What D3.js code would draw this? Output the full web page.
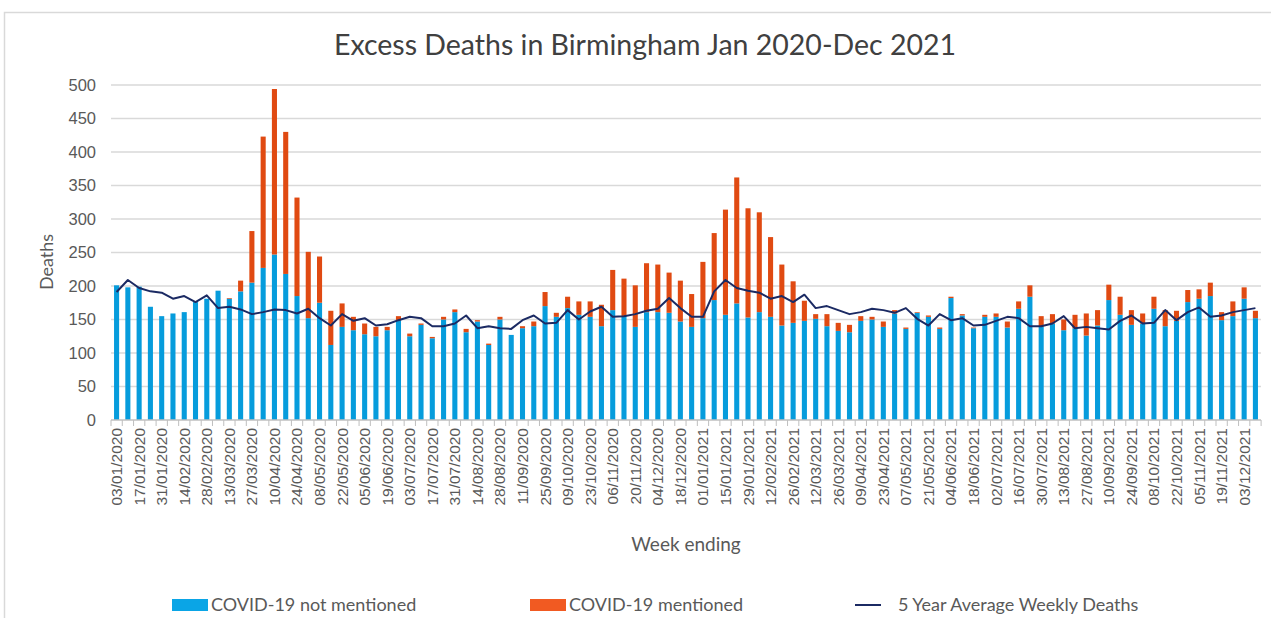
<!DOCTYPE html>
<meta charset="utf-8">

<!-- Load d3.js -->
<script src="https://d3js.org/d3.v7.min.js"></script>

<style>
body { margin: 0; background: #fff; }
text { font-family: "Liberation Sans", Arial, sans-serif; fill: #595959; }
.title, .legend text, .axis-title { font-family: Lato, "Open Sans", sans-serif; }
</style>

<div id="my_dataviz"></div>

<script>

// week ending dates (one bar per week)
var weeks = [
  "03/01/2020","10/01/2020","17/01/2020","24/01/2020","31/01/2020","07/02/2020","14/02/2020","21/02/2020",
  "28/02/2020","06/03/2020","13/03/2020","20/03/2020","27/03/2020","03/04/2020","10/04/2020","17/04/2020",
  "24/04/2020","01/05/2020","08/05/2020","15/05/2020","22/05/2020","29/05/2020","05/06/2020","12/06/2020",
  "19/06/2020","26/06/2020","03/07/2020","10/07/2020","17/07/2020","24/07/2020","31/07/2020","07/08/2020",
  "14/08/2020","21/08/2020","28/08/2020","04/09/2020","11/09/2020","18/09/2020","25/09/2020","02/10/2020",
  "09/10/2020","16/10/2020","23/10/2020","30/10/2020","06/11/2020","13/11/2020","20/11/2020","27/11/2020",
  "04/12/2020","11/12/2020","18/12/2020","25/12/2020","01/01/2021","08/01/2021","15/01/2021","22/01/2021",
  "29/01/2021","05/02/2021","12/02/2021","19/02/2021","26/02/2021","05/03/2021","12/03/2021","19/03/2021",
  "26/03/2021","02/04/2021","09/04/2021","16/04/2021","23/04/2021","30/04/2021","07/05/2021","14/05/2021",
  "21/05/2021","28/05/2021","04/06/2021","11/06/2021","18/06/2021","25/06/2021","02/07/2021","09/07/2021",
  "16/07/2021","23/07/2021","30/07/2021","06/08/2021","13/08/2021","20/08/2021","27/08/2021","03/09/2021",
  "10/09/2021","17/09/2021","24/09/2021","01/10/2021","08/10/2021","15/10/2021","22/10/2021","29/10/2021",
  "05/11/2021","12/11/2021","19/11/2021","26/11/2021","03/12/2021","10/12/2021"
];

// deaths where COVID-19 was not mentioned
var notMentioned = [
  201,198,199,169,155,159,161,176,181,193,181,192,205,227,247,218,185,152,175,112,
  139,134,128,125,134,149,125,142,122,150,161,131,147,112,150,127,137,140,170,154,
  167,157,154,140,164,155,139,161,161,160,147,139,152,179,157,174,153,161,154,141,
  145,148,151,140,133,131,148,150,139,159,136,160,154,136,182,156,137,154,154,138,
  166,184,139,144,134,137,126,141,179,157,142,144,166,140,148,176,181,185,149,155,
  181,152
];

// deaths where COVID-19 was mentioned
var mentioned = [
  0,0,0,0,0,0,0,0,0,0,1,16,77,196,247,212,147,99,69,51,
  35,20,16,14,5,6,4,2,2,4,4,5,2,2,4,0,3,7,21,6,
  17,20,23,32,60,56,62,73,71,60,61,49,84,100,157,188,163,149,119,91,
  62,30,7,18,12,11,7,4,8,5,2,1,2,2,2,2,1,3,5,9,
  11,17,16,14,16,20,33,23,23,27,22,15,18,24,15,18,14,20,12,22,
  17,11
];

// 5 year average weekly deaths
var fiveYearAvg = [
  191,209,197,192,190,181,185,176,186,167,169,165,158,161,165,164,159,166,152,141,
  158,148,152,141,143,149,154,152,140,140,144,156,137,140,137,136,149,156,144,145,
  164,150,162,169,154,155,158,163,166,182,167,154,154,192,209,197,193,190,181,185,
  176,187,167,170,164,158,161,166,164,160,167,151,141,158,149,152,141,142,148,154,
  152,140,140,144,155,137,139,137,135,148,156,144,145,164,149,161,168,154,156,161,
  164,167
];

var yTicks = [0,50,100,150,200,250,300,350,400,450,500];

var legendItems = ["COVID-19 not mentioned", "COVID-19 mentioned", "5 Year Average Weekly Deaths"];

var blue = "#069cdc", orange = "#e04a12", navy = "#1b2a63";

// set the dimensions and margins of the graph
var W = 1271, H = 618;
var margin = {top: 85, right: 10, bottom: 198, left: 111},
    width = 1261 - margin.left,
    height = H - margin.top - margin.bottom;

var svgRoot = d3.select("#my_dataviz")
  .append("svg")
    .attr("width", W)
    .attr("height", H);

// outer frame
svgRoot.append("rect")
  .attr("x", 4.5).attr("y", 12.5)
  .attr("width", W + 10).attr("height", H + 10)
  .attr("fill", "none").attr("stroke", "#d9d9d9").attr("stroke-width", 1.5);

svgRoot.append("text")
  .attr("class", "title")
  .attr("x", 645).attr("y", 55)
  .attr("text-anchor", "middle")
  .style("font-size", "28.5px")
  .style("fill", "#404040")
  .text("Excess Deaths in Birmingham Jan 2020-Dec 2021");

var svg = svgRoot.append("g")
  .attr("transform", "translate(" + margin.left + "," + margin.top + ")");

var data = weeks.map(function(w, i) {
  return {week: w, i: i, a: notMentioned[i], b: mentioned[i], avg: fiveYearAvg[i]};
});

var x = d3.scaleBand()
  .domain(weeks)
  .range([0, width])
  .paddingInner(0.55)
  .paddingOuter(0.27);

var y = d3.scaleLinear()
  .domain([0, 500])
  .range([height, 0]);

// gridlines
svg.append("g")
  .selectAll("line")
  .data(yTicks.slice(1))
  .enter()
  .append("line")
    .attr("x1", 0).attr("x2", width)
    .attr("y1", function(d) { return y(d); })
    .attr("y2", function(d) { return y(d); })
    .attr("stroke", "#d9d9d9")
    .attr("stroke-width", 1.5);

// Y axis labels
var yAxis = svg.append("g")
  .call(d3.axisLeft(y).tickValues(yTicks).tickSize(0).tickPadding(15));
yAxis.select(".domain").remove();
yAxis.selectAll("text").style("font-size", "16.5px").style("fill", "#595959");

// stacked bars
var stack = d3.stack().keys(["a", "b"])(data);
var colors = [blue, orange];

svg.append("g")
  .selectAll("g")
  .data(stack)
  .enter()
  .append("g")
    .attr("fill", function(d, k) { return colors[k]; })
  .selectAll("rect")
  .data(function(d) { return d; })
  .enter()
  .append("rect")
    .attr("x", function(d) { return x(d.data.week); })
    .attr("y", function(d) { return y(d[1]); })
    .attr("width", x.bandwidth())
    .attr("height", function(d) { return y(d[0]) - y(d[1]); });

// 5 year average line
var line = d3.line()
  .x(function(d) { return x(d.week) + x.bandwidth() / 2; })
  .y(function(d) { return y(d.avg); });

svg.append("path")
  .datum(data)
  .attr("fill", "none")
  .attr("stroke", navy)
  .attr("stroke-width", 2)
  .attr("stroke-linejoin", "round")
  .attr("d", line);

// X axis: line, ticks between categories, labels every other week
var xAxis = svg.append("g")
  .attr("transform", "translate(0," + height + ")");

xAxis.append("line")
  .attr("x1", 0).attr("x2", width)
  .attr("stroke", "#bfbfbf").attr("stroke-width", 1.5);

var step = x.step();
xAxis.selectAll(".tick")
  .data(d3.range(weeks.length + 1))
  .enter()
  .append("line")
    .attr("x1", function(d) { return d * step; })
    .attr("x2", function(d) { return d * step; })
    .attr("y1", 0).attr("y2", 6)
    .attr("stroke", "#bfbfbf");

xAxis.selectAll("text")
  .data(weeks.filter(function(d, i) { return i % 2 === 0; }))
  .enter()
  .append("text")
    .attr("transform", function(d) {
      return "translate(" + (x(d) + x.bandwidth() / 2 + 5.5) + ",8) rotate(-90)";
    })
    .attr("text-anchor", "end")
    .style("font-size", "15.5px")
    .text(function(d) { return d; });

// axis titles
svgRoot.append("text")
  .attr("class", "axis-title")
  .attr("transform", "translate(53,262) rotate(-90)")
  .attr("text-anchor", "middle")
  .style("font-size", "18px")
  .text("Deaths");

svgRoot.append("text")
  .attr("class", "axis-title")
  .attr("x", 686).attr("y", 551)
  .attr("text-anchor", "middle")
  .style("font-size", "19px")
  .text("Week ending");

// legend
var legendX = [172, 530, 855];
var legend = svgRoot.append("g").attr("class", "legend");

legendItems.forEach(function(name, k) {
  var g = legend.append("g").attr("transform", "translate(" + legendX[k] + ",605)");
  if (k < 2) {
    g.append("rect")
      .attr("x", 0).attr("y", -6)
      .attr("width", 36).attr("height", 12)
      .attr("fill", k === 0 ? "#0aa5e6" : "#f15a22");
    g.append("text").attr("x", 39).attr("y", 6)
      .style("font-size", "18px")
      .text(name);
  } else {
    g.append("line")
      .attr("x1", 0).attr("x2", 26)
      .attr("stroke", navy).attr("stroke-width", 2);
    g.append("text").attr("x", 43).attr("y", 6)
      .style("font-size", "18px")
      .text(name);
  }
});

</script>
